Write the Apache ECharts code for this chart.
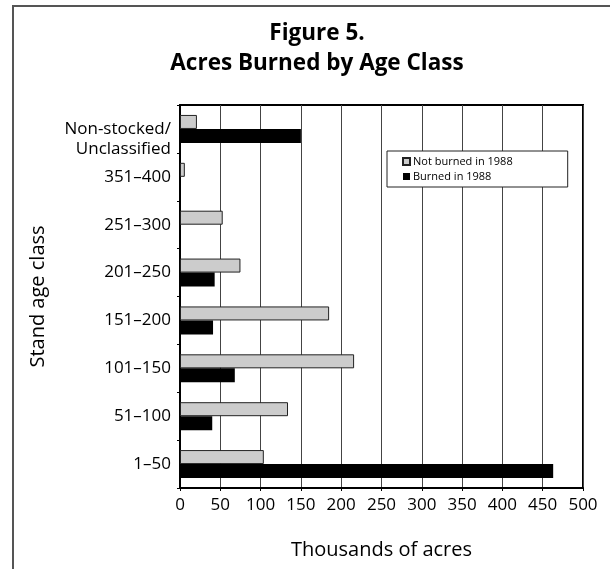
<!DOCTYPE html>
<html lang="en">
<head>
    <meta charset="utf-8">
    <title>Acres Burned by Age Class</title>
    <style>
        html, body { margin: 0; padding: 0; background: #fff; }
        #chart { width: 610px; height: 569px; }
    </style>
</head>
<body>
<div id="chart"></div>
<script src="https://cdn.jsdelivr.net/npm/echarts@6/dist/echarts.min.js"></script>
<script type="text/javascript">

// age classes, bottom to top
var ageClasses = ['1–50', '51–100', '101–150', '151–200', '201–250', '251–300', '351–400', 'Non-stocked/\nUnclassified'];
// thousands of acres
var notBurned = [104, 134, 216, 185, 75, 53, 6, 21];
var burned = [463, 40, 68, 41, 43, 0, 0, 150];
var xTicks = [0, 50, 100, 150, 200, 250, 300, 350, 400, 450, 500];

var font = '"Open Sans", "Noto Sans", sans-serif';

var chart = echarts.init(document.getElementById('chart'));
var option = {
    animation: false,
    backgroundColor: '#fff',
    textStyle: { fontFamily: font, color: '#000' },
    title: {
        text: 'Figure 5.\nAcres Burned by Age Class',
        left: 312,
        top: 14,
        textAlign: 'center',
        textStyle: { fontFamily: font, fontSize: 22.5, fontWeight: 'bold', lineHeight: 30, color: '#000' }
    },
    // the page frame: a line along the top and one down the left side
    graphic: [
        { type: 'line', shape: { x1: 12, y1: 6, x2: 610, y2: 6 }, style: { stroke: '#555', lineWidth: 2 } },
        { type: 'line', shape: { x1: 13, y1: 6, x2: 13, y2: 569 }, style: { stroke: '#555', lineWidth: 2 } }
    ],
    legend: {
        orient: 'vertical',
        left: 387,
        top: 151,
        backgroundColor: '#fff',
        borderColor: '#222',
        borderWidth: 1,
        borderRadius: 0,
        padding: [5, 55, 5, 15],
        itemWidth: 7,
        itemHeight: 7,
        itemGap: 4,
        icon: 'rect',
        textStyle: { fontFamily: font, fontSize: 11, color: '#000', padding: [0, 0, 0, -2] },
        data: ['Not burned in 1988', 'Burned in 1988']
    },
    grid: {
        left: 180,
        right: 27,
        top: 105,
        bottom: 81,
        show: true,
        borderColor: '#000',
        borderWidth: 2,
        containLabel: false
    },
    xAxis: {
        type: 'value',
        min: xTicks[0],
        max: xTicks[xTicks.length - 1],
        interval: 50,
        name: 'Thousands of acres',
        nameLocation: 'middle',
        nameGap: 52,
        nameTextStyle: { fontFamily: font, fontSize: 20, color: '#000' },
        axisLine: { show: true, lineStyle: { color: '#000', width: 2 } },
        axisTick: { show: true, length: 3, lineStyle: { color: '#000' } },
        axisLabel: { fontFamily: font, fontSize: 17, color: '#000', margin: 9 },
        splitLine: { show: true, lineStyle: { color: '#444', width: 1 } }
    },
    yAxis: {
        type: 'category',
        data: ageClasses,
        name: 'Stand age class',
        nameLocation: 'middle',
        nameRotate: 90,
        nameGap: 132,
        nameTextStyle: { fontFamily: font, fontSize: 20, color: '#000' },
        axisLine: { show: true, lineStyle: { color: '#000', width: 2 } },
        axisTick: { show: true, length: 3, lineStyle: { color: '#000' } },
        axisLabel: {
            fontFamily: font, fontSize: 17, color: '#000', margin: 9, lineHeight: 20,
            // the two-line label sits lower than the band centre
            formatter: function (v) { return v.indexOf('\n') >= 0 ? '\n' + v : v; }
        },
        splitLine: { show: false }
    },
    series: [
        {
            name: 'Not burned in 1988',
            type: 'bar',
            data: notBurned,
            barWidth: 14,
            barGap: '0%',
            itemStyle: { color: '#cccccc', borderColor: '#222', borderWidth: 1 }
        },
        {
            name: 'Burned in 1988',
            type: 'bar',
            data: burned,
            barWidth: 14,
            barGap: '0%',
            itemStyle: { color: '#000' }
        }
    ]
};
chart.setOption(option);

</script>
</body>
</html>
